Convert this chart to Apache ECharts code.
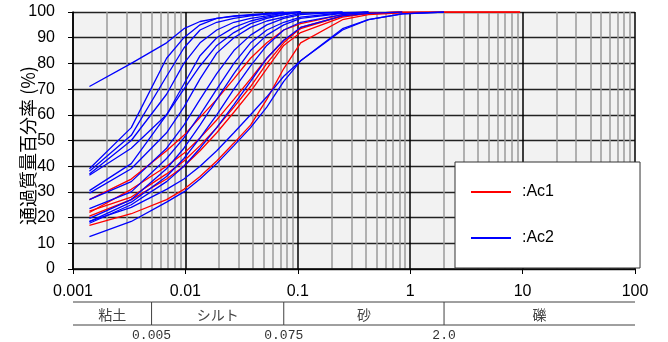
<!DOCTYPE html>
<html>
<head>
<meta charset="utf-8">
<script src="https://cdn.jsdelivr.net/npm/echarts@6/dist/echarts.min.js"></script>
<style>
  html, body { margin: 0; padding: 0; background: #fff; }
  #chart { width: 668px; height: 342px; }
</style>
</head>
<body>
<div id="chart"></div>
<script>
// grain size (mm) of each measuring point
var sizes = [0.0014, 0.0033, 0.0068, 0.0097, 0.0135, 0.019, 0.027, 0.038, 0.053,
             0.075, 0.106, 0.25, 0.425, 0.85, 2, 4.75, 9.5];

// percent passing, Ac1 (red)
var ac1Curves = [
  [27, 35, 46, 52, 59, 66, 74, 82, 88, 93, 95.5, 99, 100],
  [22, 31, 40, 45, 51, 58, 66, 74, 82, 89, 93.5, 98.5, 99.5, 100],
  [20.6, 27, 35, 40, 46, 53, 61, 69, 78, 87, 92, 98, 99.5, 100],
  [17, 21.5, 27, 31, 36, 42, 49, 56, 66, 78, 88, 97, 99, 99.7, 100, 100, 100],
  [22.5, 28, 37, 42, 48, 55, 63, 71, 80, 88, 94, 98.5, 99.5, 100, 100, 100, 100]
];

// percent passing, Ac2 (blue)
var ac2Curves = [
  [71, 80, 88, 93.5, 96.3, 97.5, 98.3, 98.8, 99.2, 99.6, 100],
  [39, 55, 82, 90, 95, 97.5, 98.5, 99, 99.5, 100],
  [38, 52, 75, 86, 93, 96, 97.5, 98.5, 99.2, 99.7, 100],
  [37, 50, 68, 80, 88, 93, 96, 97.5, 98.5, 99.5, 100],
  [36.5, 47, 60, 70, 79, 87, 92, 95.5, 97.5, 99, 100],
  [30.5, 41, 60, 72, 83, 90, 94, 96.5, 98, 99, 100],
  [29.5, 39, 53, 63, 74, 84, 90, 94, 96.5, 98, 99.5, 100],
  [27, 34, 47, 56, 66, 76, 85, 91, 95, 97.5, 99, 100],
  [23.5, 30, 43, 51, 60, 70, 80, 88, 93, 96, 98, 99.7, 100],
  [19.7, 27, 39, 47, 56, 66, 76, 85, 91, 95, 97.5, 99.5, 100],
  [18.4, 26, 36, 43, 51, 60, 70, 79, 87, 93, 96, 99, 100],
  [17.8, 25, 34, 40, 47, 55, 64, 73, 82, 89, 94, 98.5, 99.5, 100],
  [18.5, 24, 31, 35, 40, 46, 53, 60, 67, 75, 81, 93, 97, 99.3, 100],
  [12.6, 18.5, 26, 30, 35, 41, 48, 55, 63, 73, 81, 93.5, 97, 99.3, 100]
];

var xTickLabels = ['0.001', '0.01', '0.1', '1', '10', '100'];
var zoneEdges = [0.001, 0.005, 0.075, 2.0, 100];
var zoneNames = ['粘土', 'シルト', '砂', '礫'];
var edgeLabels = ['0.005', '0.075', '2.0'];

var myChart = echarts.init(document.getElementById('chart'));

function toPoints(vals) {
  return vals.map(function (v, i) {
    return [sizes[i], v];
  });
}

var series = [];
ac1Curves.forEach(function (c) {
  series.push({
    name: 'Ac1', type: 'line', data: toPoints(c), symbol: 'none',
    lineStyle: { color: '#ff0000', width: 1.3 }, itemStyle: { color: '#ff0000' }, z: 3
  });
});
ac2Curves.forEach(function (c) {
  series.push({
    name: 'Ac2', type: 'line', data: toPoints(c), symbol: 'none',
    lineStyle: { color: '#0000ff', width: 1.3 }, itemStyle: { color: '#0000ff' }, z: 3
  });
});

// soil classification band under the axis
series.push({
  type: 'custom',
  xAxisIndex: 1,
  yAxisIndex: 1,
  silent: true,
  data: zoneNames.map(function (n, i) { return [zoneEdges[i], zoneEdges[i + 1]]; }),
  renderItem: function (params, api) {
    var i = params.dataIndex;
    var p0 = api.coord([api.value(0), 1]);
    var p1 = api.coord([api.value(1), 0]);
    var st = { stroke: '#404040', lineWidth: 1 };
    var kids = [
      { type: 'line', shape: { x1: p0[0], y1: p0[1], x2: p1[0], y2: p0[1] }, style: st },
      { type: 'line', shape: { x1: p0[0], y1: p1[1], x2: p1[0], y2: p1[1] }, style: st },
      { type: 'text', style: {
          text: zoneNames[i], x: (p0[0] + p1[0]) / 2, y: (p0[1] + p1[1]) / 2 + 1,
          align: 'center', verticalAlign: 'middle',
          fontSize: 14, fontFamily: 'Noto Sans CJK JP', fill: '#444' } }
    ];
    if (i > 0) {
      kids.push({ type: 'line', shape: { x1: p0[0], y1: p0[1], x2: p0[0], y2: p1[1] }, style: st });
      kids.push({ type: 'text', style: {
          text: edgeLabels[i - 1], x: p0[0], y: p1[1] + 4,
          align: 'center', verticalAlign: 'top',
          fontSize: 13, fontFamily: 'Liberation Mono', fill: '#333' } });
    }
    return { type: 'group', children: kids };
  }
});

var option = {
  animation: false,
  textStyle: { fontFamily: 'Liberation Sans' },
  legend: {
    data: ['Ac1', 'Ac2'],
    orient: 'vertical',
    left: 455,
    top: 162,
    icon: 'rect',
    itemWidth: 40,
    itemHeight: 2,
    itemGap: 30,
    padding: [22, 86, 22, 16],
    backgroundColor: '#fff',
    borderColor: '#333',
    borderWidth: 1,
    formatter: ':{name}',
    textStyle: { fontSize: 16, color: '#000', padding: [0, 0, 0, 6], fontFamily: 'Liberation Sans' }
  },
  grid: [
    { left: 73, right: 33, top: 12, bottom: 73, show: true, backgroundColor: '#f2f2f2',
      borderWidth: 0, outerBoundsMode: 'none' },
    { left: 73, right: 33, top: 302, height: 23, outerBoundsMode: 'none' }
  ],
  xAxis: [
    {
      type: 'log', logBase: 10, min: 0.001, max: 100, gridIndex: 0,
      axisLine: { show: true, lineStyle: { color: '#000', width: 1.5 } },
      axisTick: { show: true, length: 5, lineStyle: { color: '#000' } },
      axisLabel: {
        fontSize: 16, color: '#000', margin: 15,
        formatter: function (v, idx) { return xTickLabels[idx]; }
      },
      splitLine: { show: true, lineStyle: { color: '#000', width: 1.5 } },
      minorTick: { show: false, splitNumber: 9 },
      minorSplitLine: { show: true, lineStyle: { color: '#9a9a9a', width: 1.5 } }
    },
    { type: 'log', logBase: 10, min: 0.001, max: 100, gridIndex: 1, show: false }
  ],
  yAxis: [
    {
      type: 'value', min: 0, max: 100, interval: 10, gridIndex: 0,
      name: '通過質量百分率 (%)',
      nameLocation: 'middle',
      nameGap: 36,
      nameMoveOverlap: false,
      nameTextStyle: { fontSize: 18, color: '#000', fontFamily: 'Noto Sans CJK JP', padding: [0, 10, 0, 0] },
      axisLine: { show: true, lineStyle: { color: '#000', width: 1.5 } },
      axisTick: { show: true, length: 5, lineStyle: { color: '#000' } },
      axisLabel: { fontSize: 16, color: '#000', margin: 18 },
      splitLine: { show: true, lineStyle: { color: '#222', width: 1.3 } }
    },
    { type: 'value', min: 0, max: 1, gridIndex: 1, show: false }
  ],
  series: series
};
myChart.setOption(option);
</script>
</body>
</html>
